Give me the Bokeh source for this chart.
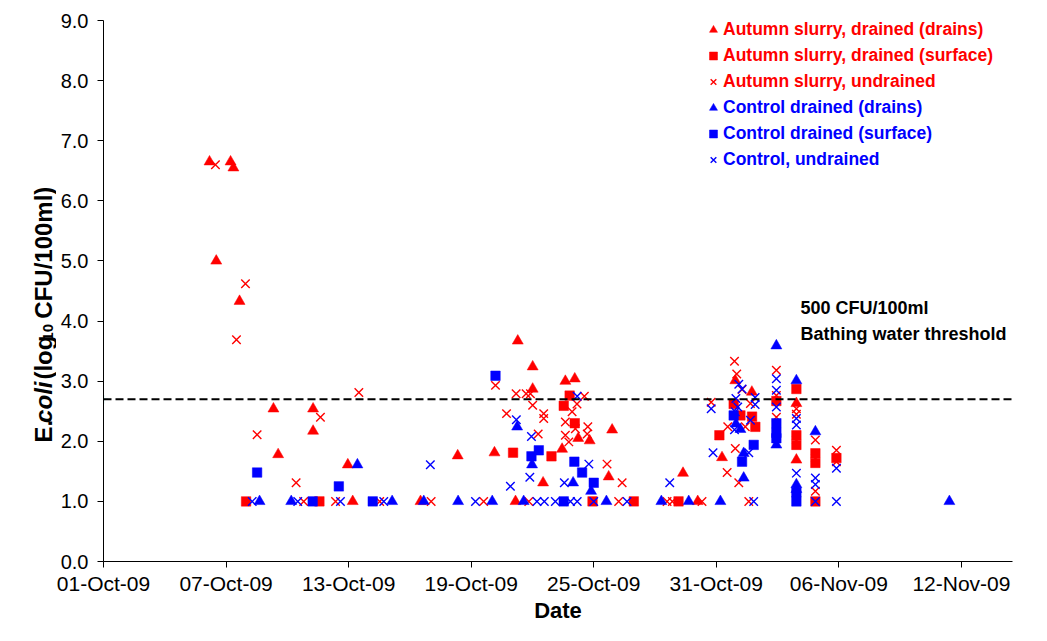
from datetime import datetime, timedelta
from math import pi
from bokeh.plotting import figure
from bokeh.layouts import row
from bokeh.core.properties import value
from bokeh.models import (Range1d, FixedTicker, DatetimeTickFormatter, PrintfTickFormatter,
                          Span, Label, Legend, LegendItem, ColumnDataSource)
from bokeh.embed import file_html
from bokeh.resources import INLINE

# ---------------- data (day offsets from 01-Oct-09, log10 CFU/100ml) ----------------
START = datetime(2009, 10, 1)
AXIS_DAYS = 44.5
tick_dates = ["2009-10-01", "2009-10-07", "2009-10-13", "2009-10-19",
              "2009-10-25", "2009-10-31", "2009-11-06", "2009-11-12"]
y_ticks = [0, 1, 2, 3, 4, 5, 6, 7, 8, 9]
threshold_val = 2.699          # log10(500)
threshold_day = [0.0]

a_drains_day = [5.19, 6.22, 6.36, 5.52, 6.66, 8.32, 8.55, 10.26, 10.26, 11.96, 12.2, 15.52, 17.34,
                19.14, 20.17, 20.28, 21.01, 21.01, 21.52, 22.45, 22.61, 23.07, 23.24, 23.8, 24.73,
                24.9, 28.37, 29.09, 30.28, 30.93, 31.74, 33.92, 33.92]
a_drains_val = [6.65, 6.65, 6.55, 5.0, 4.33, 2.54, 1.78, 2.54, 2.17, 1.61, 1.0, 1.0, 1.76,
                1.81, 1.0, 3.67, 3.24, 2.87, 1.31, 1.87, 3.0, 3.04, 2.05, 2.01, 1.41,
                2.19, 1.47, 1.0, 1.73, 3.01, 2.82, 2.63, 1.69]

a_surface_day = [6.98, 10.57, 20.05, 21.93, 22.53, 22.82, 23.07, 23.94, 25.96, 28.15, 30.15, 30.85,
                 31.18, 31.75, 31.91, 32.94, 33.92, 33.92, 33.92, 34.85, 34.85, 35.88, 34.85]
a_surface_val = [1.0, 1.0, 1.81, 1.75, 2.59, 2.76, 2.30, 1.0, 1.0, 1.0, 2.1, 2.62,
                 2.43, 2.41, 2.24, 2.67, 2.87, 2.1, 1.94, 1.8, 1.64, 1.72, 1.0]

a_undrained_day = [5.48, 6.95, 6.51, 7.52, 10.62, 12.5, 9.43, 9.8, 11.36, 13.52, 16.04, 18.61, 19.19,
                   19.73, 20.2, 20.69, 20.9, 21.01, 21.28, 21.55, 21.55, 20.82, 22.61, 22.61, 22.78,
                   22.94, 23.18, 23.1, 23.54, 23.71, 23.68, 24.65, 25.22, 25.39, 27.59, 27.85, 29.3,
                   29.75, 30.53, 30.56, 30.89, 31.0, 31.26, 30.93, 31.1, 31.42, 31.67, 31.59, 32.94,
                   32.94, 32.94, 33.92, 33.92, 33.92, 34.85, 34.85, 34.85, 35.88, 35.88]
a_undrained_val = [6.6, 4.62, 3.69, 2.11, 2.40, 2.81, 1.31, 1.0, 1.0, 1.0, 1.0, 1.0, 2.93,
                   2.46, 2.79, 2.79, 2.79, 2.6, 2.12, 2.46, 2.38, 1.0, 2.32, 2.1, 1.99,
                   2.49, 2.62, 2.21, 2.75, 2.24, 2.12, 1.62, 1.0, 1.31, 1.0, 1.0, 1.0,
                   2.65, 1.48, 2.24, 3.33, 3.12, 2.86, 1.88, 1.31, 2.24, 2.63, 1.0, 3.18,
                   2.76, 2.4, 2.54, 2.45, 2.02, 2.02, 1.72, 1.17, 1.85, 1.66]

c_drains_day = [7.64, 9.19, 12.43, 14.13, 15.68, 17.36, 19.03, 20.25, 20.57, 20.98, 22.99, 23.87,
                24.62, 27.31, 28.65, 30.2, 31.34, 30.96, 31.18, 31.34, 32.94, 32.94, 33.92, 33.92,
                33.92, 34.85, 41.41]
c_drains_val = [1.0, 1.0, 1.61, 1.0, 1.0, 1.0, 1.0, 2.24, 1.0, 1.61, 1.31, 1.17,
                1.0, 1.0, 1.0, 1.0, 1.39, 2.29, 2.2, 1.8, 3.59, 1.94, 3.01, 1.28,
                1.2, 2.16, 1.0]

c_surface_day = [7.52, 10.24, 11.52, 13.18, 19.19, 20.95, 21.31, 22.53, 23.05, 23.43, 24.0, 30.85,
                 31.26, 31.83, 32.94, 32.94, 32.94, 33.92, 33.92]
c_surface_val = [1.48, 1.0, 1.25, 1.0, 3.09, 1.75, 1.85, 1.0, 1.66, 1.48, 1.31, 2.43,
                 1.66, 1.94, 2.3, 2.14, 2.05, 1.15, 1.0]

c_undrained_day = [7.28, 9.51, 11.6, 13.72, 16.0, 18.21, 19.92, 20.21, 20.87, 20.95, 21.22, 21.58,
                   22.12, 22.56, 22.86, 23.19, 23.19, 23.76, 24.0, 25.63, 27.72, 29.75, 29.84, 31.1,
                   31.26, 30.96, 31.05, 30.93, 30.89, 31.67, 31.59, 31.9, 31.9, 31.83, 32.94, 32.94,
                   32.94, 33.92, 33.92, 33.92, 34.85, 34.85, 34.85, 35.88, 35.88]
c_undrained_val = [1.0, 1.0, 1.0, 1.0, 1.61, 1.0, 1.25, 2.36, 1.40, 2.08, 1.0, 1.0,
                   1.0, 1.31, 1.0, 2.75, 1.0, 1.62, 1.0, 1.0, 1.31, 2.54, 1.81, 2.95,
                   2.87, 2.71, 2.57, 2.49, 2.19, 2.35, 1.81, 2.73, 2.61, 1.0, 3.04, 2.85,
                   2.57, 2.38, 2.27, 1.47, 1.39, 1.28, 1.0, 1.55, 1.0]

series_labels = ["Autumn slurry, drained (drains)", "Autumn slurry, drained (surface)",
                 "Autumn slurry, undrained", "Control drained (drains)",
                 "Control drained (surface)", "Control, undrained"]

RED = "#FF0000"
BLUE = "#0000FF"
FONT = "Liberation Sans"


def to_dates(days):
    return [START + timedelta(days=d) for d in days]


# ---------------- layout (picture pixels) ----------------
W, H = 1031, 625
STRIP = 56                      # narrow strip on the left holding the y-axis title
FRAME_L, FRAME_R, FRAME_T, FRAME_B = 103, 1012, 20, 566
x0_ms = (START - datetime(1970, 1, 1)).total_seconds() * 1000.0
ms_per_px = AXIS_DAYS * 86400000.0 / (FRAME_R - FRAME_L)


def xpx(px):
    return x0_ms + (px - FRAME_L) * ms_per_px


def ypx(py):
    return (FRAME_B - py) * 9.0 / (FRAME_B - FRAME_T)


MW = W - STRIP
p = figure(width=MW, height=H, x_axis_type="datetime",
           x_range=Range1d(START, START + timedelta(days=AXIS_DAYS)),
           y_range=Range1d(0, 9), output_backend="svg", toolbar_location=None,
           min_border_left=FRAME_L - STRIP, min_border_right=MW - (FRAME_R - STRIP),
           min_border_top=FRAME_T, min_border_bottom=H - FRAME_B)
p.xgrid.visible = False
p.ygrid.visible = False
p.outline_line_color = None
p.background_fill_color = "white"

# axes
tick_ms = [(datetime.strptime(t, "%Y-%m-%d") - datetime(1970, 1, 1)).total_seconds() * 1000.0
           for t in tick_dates]
p.xaxis.ticker = FixedTicker(ticks=tick_ms)
fmt = "%d-%b-%y"
p.xaxis.formatter = DatetimeTickFormatter(days=fmt, months=fmt, years=fmt, hours=fmt,
                                          hourmin=fmt, minutes=fmt, minsec=fmt, seconds=fmt,
                                          milliseconds=fmt, microseconds=fmt)
p.yaxis.ticker = FixedTicker(ticks=y_ticks)
p.yaxis.formatter = PrintfTickFormatter(format="%.1f")
for ax in (p.xaxis, p.yaxis):
    ax.axis_line_color = "black"
    ax.axis_line_width = 1
    ax.major_tick_line_color = "black"
    ax.major_tick_out = 6
    ax.major_tick_in = 0
    ax.minor_tick_line_color = None
    ax.major_label_text_font = FONT
    ax.major_label_text_color = "black"
p.xaxis.major_label_text_font_size = "21px"
p.yaxis.major_label_text_font_size = "20px"
p.xaxis.major_label_standoff = 4
p.yaxis.major_label_standoff = 9
p.xaxis.axis_label = "Date"
p.xaxis.axis_label_text_font = FONT
p.xaxis.axis_label_text_font_style = "bold"
p.xaxis.axis_label_text_font_size = "22px"
p.xaxis.axis_label_text_color = "black"
p.xaxis.axis_label_standoff = 0

# threshold line
p.add_layout(Span(location=threshold_val, dimension="width", line_color="black",
                  line_width=2, line_dash="8 4"))

# series
specs = [
    (a_drains_day, a_drains_val, "triangle", RED, 11),
    (a_surface_day, a_surface_val, "square", RED, 9.5),
    (a_undrained_day, a_undrained_val, "x", RED, 12),
    (c_drains_day, c_drains_val, "triangle", BLUE, 11),
    (c_surface_day, c_surface_val, "square", BLUE, 9.5),
    (c_undrained_day, c_undrained_val, "x", BLUE, 12),
]
renderers = []
for days, vals, marker, color, size in specs:
    src = ColumnDataSource(dict(x=to_dates(days), y=vals))
    if marker == "x":
        r = p.scatter("x", "y", source=src, marker="x", size=size, line_color=color,
                      line_width=1.4)
    else:
        r = p.scatter("x", "y", source=src, marker=marker, size=size, fill_color=color,
                      line_color=color, line_width=0.5)
    renderers.append(r)

# small cyan marker at the start of the threshold line
p.scatter(to_dates(threshold_day), [threshold_val], marker="cross", size=9,
          line_color="#20B2B2", line_width=1.2)


# legends (one per colour, so each keeps its own text colour)
def make_legend(items, color, y_loc):
    leg = Legend(items=items, location=(600, y_loc),
                 orientation="vertical", background_fill_alpha=0, border_line_color=None,
                 padding=0, margin=0, spacing=5, label_height=21, glyph_height=21,
                 glyph_width=20, label_standoff=0, label_text_font=FONT,
                 label_text_font_style="bold", label_text_font_size="17.5px",
                 label_text_color=color)
    p.add_layout(leg)


make_legend([LegendItem(label=series_labels[i], renderers=[renderers[i]]) for i in range(3)],
            RED, 469)
make_legend([LegendItem(label=series_labels[i], renderers=[renderers[i]]) for i in range(3, 6)],
            BLUE, 391)

# threshold annotation
for txt, py in (("500 CFU/100ml", 310), ("Bathing water  threshold", 336)):
    p.add_layout(Label(x=xpx(800), y=ypx(py), text=txt, text_font=FONT,
                       text_font_style="bold", text_font_size="18px", text_color="black",
                       text_align="left", text_baseline="middle"))

# ---------------- y-axis title strip (italic part and subscript) ----------------
strip = figure(width=STRIP, height=H, x_range=Range1d(0, STRIP), y_range=Range1d(0, H),
               min_border=0, x_axis_location=None, y_axis_location=None,
               output_backend="svg", toolbar_location=None)
strip.outline_line_color = None
strip.grid.visible = False

ARIAL_BOLD = {"E": 667, ".": 278, "c": 556, "o": 611, "l": 278, "i": 278, " ": 278, "(": 333,
              "g": 611, "C": 722, "F": 611, "U": 722, "/": 278, "1": 556, "0": 556, "m": 889,
              ")": 333}


def tw(s, size):
    return sum(ARIAL_BOLD.get(ch, 556) for ch in s) * size / 1000.0


TS = 24
SUB = 15
GAP = 1.3 * tw(" ", TS)
# (text, style, size, shift to the right for subscript, gap before)
parts = [("E.", "bold", TS, 0, 0), ("coli", "bold italic", TS, 0, 0),
         ("(log", "bold", TS, 0, GAP), ("10", "bold", SUB, 5, 1),
         ("CFU/100ml)", "bold", TS, 0, GAP)]
total = sum(tw(s, sz) + gap for s, _, sz, _, gap in parts)
center_py = 350
cur = center_py + total / 2.0
base_px = 34 + 0.36 * TS
for s, style, sz, shift, gap in parts:
    cur -= gap
    strip.text(x=[base_px + shift], y=[H - cur], text=[s], angle=pi / 2,
               text_font=value(FONT), text_font_style=style, text_font_size=f"{sz}px",
               text_color="black", text_align="left", text_baseline="alphabetic")
    cur -= tw(s, sz)

layout = row(strip, p)
open("out.html", "w").write(file_html(layout, INLINE))
